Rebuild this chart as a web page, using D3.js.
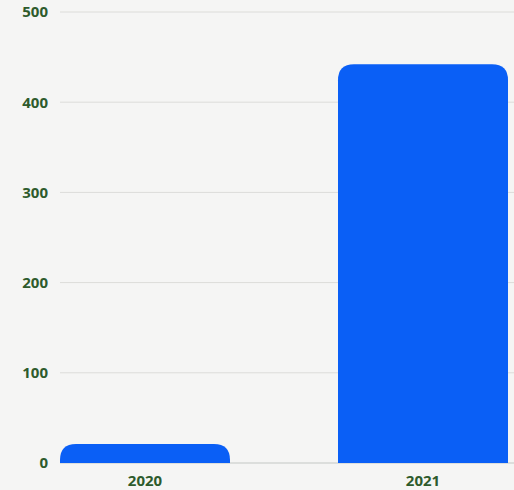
<!DOCTYPE html>
<html>
<head>
<meta charset="utf-8">
<script src="https://cdn.jsdelivr.net/npm/d3@7"></script>
<style>
  html, body { margin: 0; padding: 0; background: #f5f5f4; }
  svg { display: block; }
</style>
</head>
<body>
<script>
// Yearly totals
const years = ["2020", "2021"];
const values = [21, 442];
const yTicks = [0, 100, 200, 300, 400, 500];

const width = 514, height = 490;
const plotLeft = 60, plotRight = 508, plotTop = 12, plotBottom = 463;

const svg = d3.select("body").append("svg")
  .attr("width", width).attr("height", height);

svg.append("rect").attr("width", width).attr("height", height).attr("fill", "#f5f5f4");

const x = d3.scaleBand().domain(years).range([plotLeft, plotRight])
  .paddingInner(0.3885).paddingOuter(0);
const y = d3.scaleLinear().domain([0, 500]).range([plotBottom, plotTop]);

// Horizontal grid lines
svg.append("g").selectAll("line").data(yTicks.filter(t => t > 0)).join("line")
  .attr("x1", plotLeft).attr("x2", width)
  .attr("y1", d => y(d)).attr("y2", d => y(d))
  .attr("stroke", "#dcdcd9").attr("stroke-width", 1);

// Baseline
svg.append("line")
  .attr("x1", plotLeft).attr("x2", width)
  .attr("y1", y(0)).attr("y2", y(0))
  .attr("stroke", "#c4c8c4").attr("stroke-width", 1.2);

const labelFont = sel => sel
  .attr("fill", "#2e5b2c")
  .style("font-family", "'Open Sans', 'Noto Sans', sans-serif")
  .style("font-weight", "700")
  .style("font-size", "15px");

// Y axis labels
const yAxis = d3.axisLeft(y).tickValues(yTicks).tickSize(0).tickPadding(0);
const gy = svg.append("g").attr("transform", `translate(${plotLeft - 12},0)`).call(yAxis);
gy.select(".domain").remove();
gy.selectAll("text").call(labelFont);

// Bars with rounded top corners
function topRounded(x0, y0, w, h, r) {
  r = Math.min(r, h, w / 2);
  return `M${x0},${y0 + h}V${y0 + r}Q${x0},${y0} ${x0 + r},${y0}` +
         `H${x0 + w - r}Q${x0 + w},${y0} ${x0 + w},${y0 + r}V${y0 + h}Z`;
}
svg.append("g").selectAll("path").data(years).join("path")
  .attr("d", (d, i) => {
    const top = y(values[i]);
    return topRounded(x(d), top, x.bandwidth(), y(0) - top, 16);
  })
  .attr("fill", "#0a5ff6");

// X axis labels
const xAxis = d3.axisBottom(x).tickSize(0).tickPadding(0);
const gx = svg.append("g").attr("transform", `translate(0,${plotBottom + 12})`).call(xAxis);
gx.select(".domain").remove();
gx.selectAll("text").call(labelFont);
</script>
</body>
</html>
